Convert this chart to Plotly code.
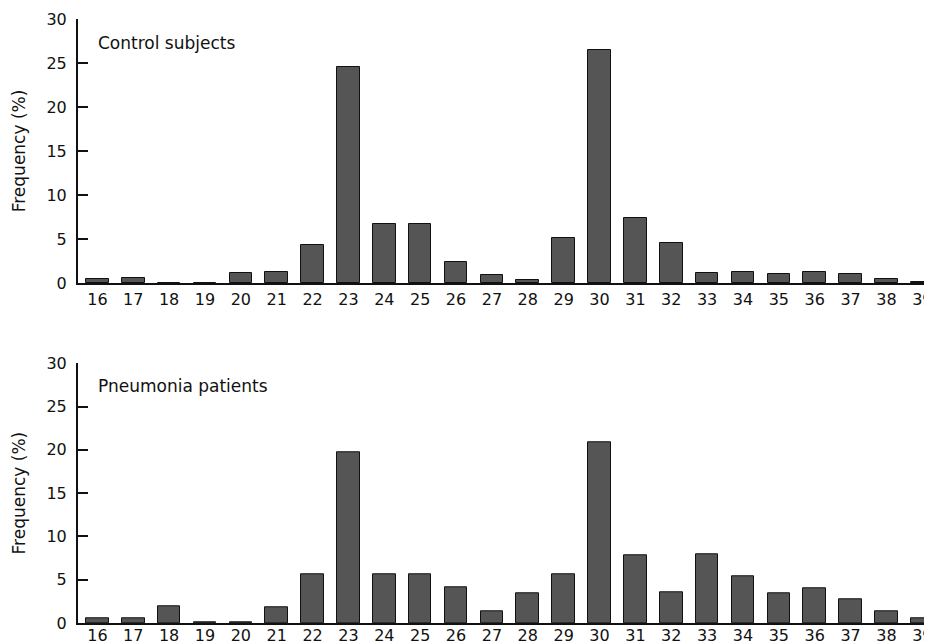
import plotly.graph_objects as go

categories = list(range(16, 40))
control = [0.4, 0.6, 0.05, 0.05, 1.15, 1.25, 4.3, 24.6, 6.7, 6.75, 2.4, 0.85, 0.3, 5.1,
           26.5, 7.4, 4.5, 1.15, 1.2, 1.05, 1.2, 1.0, 0.4, 0.15]
pneumonia = [0.5, 0.55, 1.95, 0.05, 0.05, 1.85, 5.6, 19.7, 5.6, 5.6, 4.15, 1.3, 3.45, 5.6,
             20.9, 7.85, 3.5, 7.9, 5.35, 3.4, 4.0, 2.7, 1.4, 0.6]
y_ticks = [0, 5, 10, 15, 20, 25, 30]
panel_titles = ["Control subjects", "Pneumonia patients"]

FONT = "DejaVu Sans"
bar_color = "#555555"

fig = go.Figure()
fig.add_trace(go.Bar(x=categories, y=control, xaxis="x", yaxis="y",
                     marker=dict(color=bar_color, line=dict(color="#111", width=1)),
                     width=0.63, showlegend=False))
fig.add_trace(go.Bar(x=categories, y=pneumonia, xaxis="x2", yaxis="y2",
                     marker=dict(color=bar_color, line=dict(color="#111", width=1)),
                     width=0.63, showlegend=False))

xcommon = dict(range=[15.46, 39.27], tickmode="array", tickvals=categories,
               ticktext=[str(c) for c in categories], showline=True, linecolor="#111",
               linewidth=1.5, ticks="", showgrid=False, zeroline=False, automargin=False,
               ticklabeloverflow="allow",
               tickfont=dict(family=FONT, size=16, color="#111"))
ycommon = dict(range=[0, 30], tickmode="array", tickvals=y_ticks, showline=True,
               linecolor="#111", linewidth=2, ticks="inside", ticklen=10, tickwidth=1.5,
               tickcolor="#111", showgrid=False, zeroline=False, automargin=False,
               ticklabelstandoff=6,
               tickfont=dict(family=FONT, size=16, color="#111"),
               title=dict(text="Frequency (%)", font=dict(family=FONT, size=17, color="#111"),
                          standoff=16))

fig.update_layout(
    width=924, height=635,
    margin=dict(l=70, r=0, t=11, b=20),
    paper_bgcolor="white", plot_bgcolor="white",
    bargap=0,
    xaxis=dict(**xcommon, anchor="y", domain=[0, 1], ticklabelstandoff=1),
    yaxis=dict(**ycommon, anchor="x", domain=[0.563, 1]),
    xaxis2=dict(**xcommon, anchor="y2", domain=[0, 1], ticklabelstandoff=-3),
    yaxis2=dict(**ycommon, anchor="x2", domain=[0, 0.43]),
    annotations=[
        dict(text=panel_titles[0], xref="x", yref="y", x=15.95, y=27.3, xanchor="left",
             yanchor="middle", showarrow=False, font=dict(family=FONT, size=17, color="#111")),
        dict(text=panel_titles[1], xref="x2", yref="y2", x=15.95, y=27.4, xanchor="left",
             yanchor="middle", showarrow=False, font=dict(family=FONT, size=17, color="#111")),
    ],
)

fig.write_html("out.html")
